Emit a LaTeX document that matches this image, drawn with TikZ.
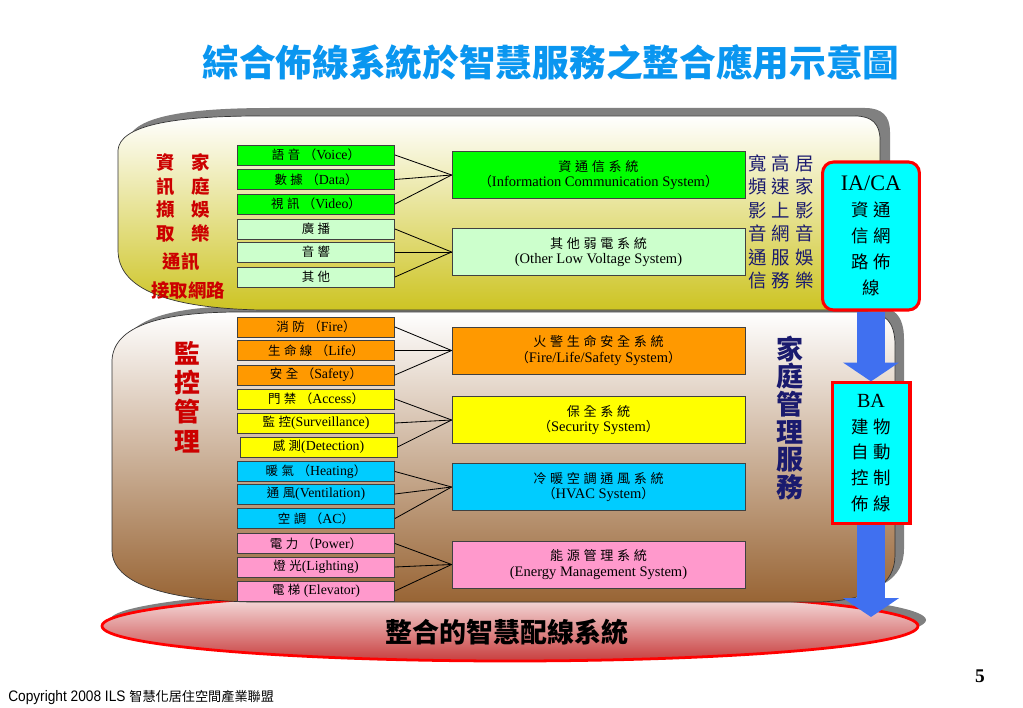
\documentclass[tikz,border=0pt]{standalone}
\usepackage{fontspec}
\setmainfont{Liberation Serif}
\newfontfamily\zhbox{Noto Sans CJK TC}[Scale=0.9,LetterSpace=28]
\newfontfamily\zhfont{Noto Sans CJK TC}
\newfontfamily\narrowsans{Liberation Sans}[FakeStretch=0.9]
\usepackage{tikz}
\usetikzlibrary{arrows.meta}
\definecolor{mygreen}{RGB}{0, 255, 0}
\definecolor{mylightgreen}{RGB}{204, 255, 204}
\definecolor{myorange}{RGB}{255, 153, 0}
\definecolor{myyellow}{RGB}{255, 255, 0}
\definecolor{mysky}{RGB}{0, 204, 255}
\definecolor{mypink}{RGB}{255, 153, 204}
\definecolor{mycyan}{RGB}{0, 255, 255}
\definecolor{myred}{RGB}{255, 0, 0}
\definecolor{mydarkred}{RGB}{204, 0, 0}
\definecolor{mynavy}{RGB}{26, 26, 110}
\definecolor{myarrow}{RGB}{64, 112, 240}
\definecolor{mytitle}{RGB}{10, 150, 240}
\definecolor{myshadow}{RGB}{128, 128, 128}
\definecolor{mycream}{RGB}{243, 240, 200}
\definecolor{myolive}{RGB}{205, 196, 35}
\definecolor{mytan}{RGB}{222, 204, 190}
\definecolor{mybrown}{RGB}{152, 100, 52}
\definecolor{myrose}{RGB}{250, 238, 238}
\definecolor{myrosered}{RGB}{200, 62, 62}
\newcommand{\entxt}[1]{{\rmfamily #1}}

\begin{document}
\begin{tikzpicture}[x=0.254mm, y=-0.254mm,
    sbox/.style={draw=black!75, line width=0.6pt, minimum width=39.9mm, minimum height=5.1mm, inner sep=0pt, font=\zhbox\fontsize{10}{11}\selectfont},
    bbox/.style={draw=black!75, line width=0.6pt, minimum width=74.4mm, minimum height=11.9mm, inner sep=0pt, align=center, font=\zhbox\fontsize{10.5}{11}\selectfont},
    fan/.style={line width=0.6pt},
    wirebox/.style={draw=myred, line width=2.2pt, fill=mycyan, align=center, inner sep=0pt, font=\zhbox\fontsize{14}{18.7}\selectfont},
    fat/.style={myarrow, line width=7.1mm, -{Triangle[length=4.8mm, width=14mm]}},
    backshade/.style={fill=myshadow}]
    \useasboundingbox (0,0) rectangle (1023,708);

    % 標題
    \node[font=\zhfont\bfseries\fontsize{26.5}{30}\selectfont, text=mytitle] (title) at (551,62) {綜合佈線系統於智慧服務之整合應用示意圖};

    % 底座
    \fill[backshade] (518,620) ellipse [x radius=408, y radius=35];
    \shade[top color=myrose, bottom color=myrosered, draw=myred, line width=2pt] (510,626) ellipse [x radius=408, y radius=35];

    % 監控層
    \fill[backshade, shift={(9,-6)}] (112,360) .. controls (114,326) and (160,312) .. (240,312) -- (865,312) .. controls (885,312) and (895,322) .. (895,345) -- (895,555) .. controls (895,585) and (870,600) .. (820,602) -- (250,602) .. controls (170,600) and (112,585) .. (112,550) -- cycle;
    \shade[top color=white, middle color=mytan, bottom color=mybrown, draw=black!80, line width=0.5pt] (112,360) .. controls (114,326) and (160,312) .. (240,312) -- (865,312) .. controls (885,312) and (895,322) .. (895,345) -- (895,555) .. controls (895,585) and (870,600) .. (820,602) -- (250,602) .. controls (170,600) and (112,585) .. (112,550) -- cycle;

    % 資通層
    \fill[backshade, shift={(10,-8)}] (118,150) .. controls (120,126) and (170,116) .. (260,116) -- (855,116) .. controls (872,116) and (880,124) .. (880,140) -- (880,300) -- (850,310) -- (260,310) .. controls (170,308) and (118,290) .. (118,250) -- cycle;
    \shade[top color=white, middle color=mycream, bottom color=myolive, draw=black!80, line width=0.5pt] (118,150) .. controls (120,126) and (170,116) .. (260,116) -- (855,116) .. controls (872,116) and (880,124) .. (880,140) -- (880,300) -- (850,310) -- (260,310) .. controls (170,308) and (118,290) .. (118,250) -- cycle;

    % 左側標籤
    \node[font=\zhfont\bfseries\fontsize{13.3}{17}\selectfont, text=mydarkred, align=center] (yule) at (183,198) {資\hspace{0.9em}家\\訊\hspace{0.9em}庭\\擷\hspace{0.9em}娛\\取\hspace{0.9em}樂};
    \node[font=\zhfont\bfseries\fontsize{13.3}{17}\selectfont, text=mydarkred] (tongxun) at (181,262) {通訊};
    \node[font=\zhfont\bfseries\fontsize{13.3}{17}\selectfont, text=mydarkred] (jiequ) at (188,290) {接取網路};
    \node[font=\zhfont\bfseries\fontsize{18.7}{21.2}\selectfont, text=mydarkred, align=center] (jiankong) at (187,397) {監\\控\\管\\理};

    % 資通信子系統
    \node[sbox, fill=mygreen] (v1) at (316,155) {語音（\entxt{Voice}）};
    \node[sbox, fill=mygreen] (v2) at (316,179.5) {數據（\entxt{Data}）};
    \node[sbox, fill=mygreen] (v3) at (316,204) {視訊（\entxt{Video}）};
    \node[sbox, fill=mylightgreen] (o1) at (316,229) {廣播};
    \node[sbox, fill=mylightgreen] (o2) at (316,252) {音響};
    \node[sbox, fill=mylightgreen] (o3) at (316,277) {其他};

    % 監控子系統
    \node[sbox, fill=myorange] (f1) at (316,327) {消防（\entxt{Fire}）};
    \node[sbox, fill=myorange] (f2) at (316,350.5) {生命線（\entxt{Life}）};
    \node[sbox, fill=myorange] (f3) at (316,375) {安全（\entxt{Safety}）};
    \node[sbox, fill=myyellow] (s1) at (316,399) {門禁（\entxt{Access}）};
    \node[sbox, fill=myyellow] (s2) at (316,423) {監控\entxt{(Surveillance)}};
    \node[sbox, fill=myyellow] (s3) at (318.5,447) {感測\entxt{(Detection)}};
    \node[sbox, fill=mysky] (h1) at (316,471.5) {暖氣（\entxt{Heating}）};
    \node[sbox, fill=mysky] (h2) at (316,494) {通風\entxt{(Ventilation)}};
    \node[sbox, fill=mysky] (h3) at (316,518.5) {空調（\entxt{AC}）};
    \node[sbox, fill=mypink] (e1) at (316,543.5) {電力（\entxt{Power}）};
    \node[sbox, fill=mypink] (e2) at (316,567) {燈光\entxt{(Lighting)}};
    \node[sbox, fill=mypink] (e3) at (316,591) {電梯\entxt{ (Elevator)}};

    % 系統
    \node[bbox, fill=mygreen] (ics) at (598.5,175) {資通信系統\\（\entxt{Information Communication System}）};
    \node[bbox, fill=mylightgreen] (olv) at (598.5,252) {其他弱電系統\\\entxt{(Other Low Voltage System)}};
    \node[bbox, fill=myorange] (fls) at (598.5,350.5) {火警生命安全系統\\（\entxt{Fire/Life/Safety System}）};
    \node[bbox, fill=myyellow] (sec) at (598.5,420) {保全系統\\（\entxt{Security System}）};
    \node[bbox, fill=mysky] (hvac) at (598.5,487) {冷暖空調通風系統\\（\entxt{HVAC System}）};
    \node[bbox, fill=mypink] (ems) at (598.5,564.5) {能源管理系統\\\entxt{(Energy Management System)}};

    \draw[fan] (v1.east) -- (ics.west);
    \draw[fan] (v2.east) -- (ics.west);
    \draw[fan] (v3.east) -- (ics.west);
    \draw[fan] (o1.east) -- (olv.west);
    \draw[fan] (o2.east) -- (olv.west);
    \draw[fan] (o3.east) -- (olv.west);
    \draw[fan] (f1.east) -- (fls.west);
    \draw[fan] (f2.east) -- (fls.west);
    \draw[fan] (f3.east) -- (fls.west);
    \draw[fan] (s1.east) -- (sec.west);
    \draw[fan] (s2.east) -- (sec.west);
    \draw[fan] (s3.east) -- (sec.west);
    \draw[fan] (h1.east) -- (hvac.west);
    \draw[fan] (h2.east) -- (hvac.west);
    \draw[fan] (h3.east) -- (hvac.west);
    \draw[fan] (e1.east) -- (ems.west);
    \draw[fan] (e2.east) -- (ems.west);
    \draw[fan] (e3.east) -- (ems.west);

    % 右側服務
    \node[font=\zhbox\fontsize{14.8}{16.9}\selectfont, text=mynavy, align=center] (fuwu) at (781,222) {寬高居\\頻速家\\影上影\\音網音\\通服娛\\信務樂};
    \node[font=\zhfont\bfseries\fontsize{19.5}{20}\selectfont, text=mynavy, align=center] (guanli) at (790,418) {家\\庭\\管\\理\\服\\務};

    % 佈線
    \node[wirebox, rounded corners=2.8mm, minimum width=24.6mm, minimum height=37.6mm] (iaca) at (871,236) {{\fontsize{16}{18.7}\selectfont\entxt{IA/CA}}\\資通\\信網\\路佈\\線};
    \node[wirebox, minimum width=19.8mm, minimum height=35.6mm] (ba) at (871,453) {{\fontsize{14.5}{18.7}\selectfont\entxt{BA}}\\建物\\自動\\控制\\佈線};
    \coordinate (base) at (871,617);
    \draw[fat] (iaca.south) -- (ba.north);
    \draw[fat] (ba.south) -- (base);

    \node[font=\zhfont\bfseries\fontsize{19.5}{22}\selectfont] (zhihui) at (507,632) {整合的智慧配線系統};

    % 頁尾
    \node[font=\bfseries\fontsize{14}{16}\selectfont] (pagenum) at (980,676) {5};
    \node[anchor=west, inner sep=0pt, font=\narrowsans\fontsize{11}{13}\selectfont] (copyright) at (8,697) {Copyright 2008 ILS {\zhfont\fontsize{9.5}{11}\selectfont 智慧化居住空間產業聯盟}};
\end{tikzpicture}
\end{document}
